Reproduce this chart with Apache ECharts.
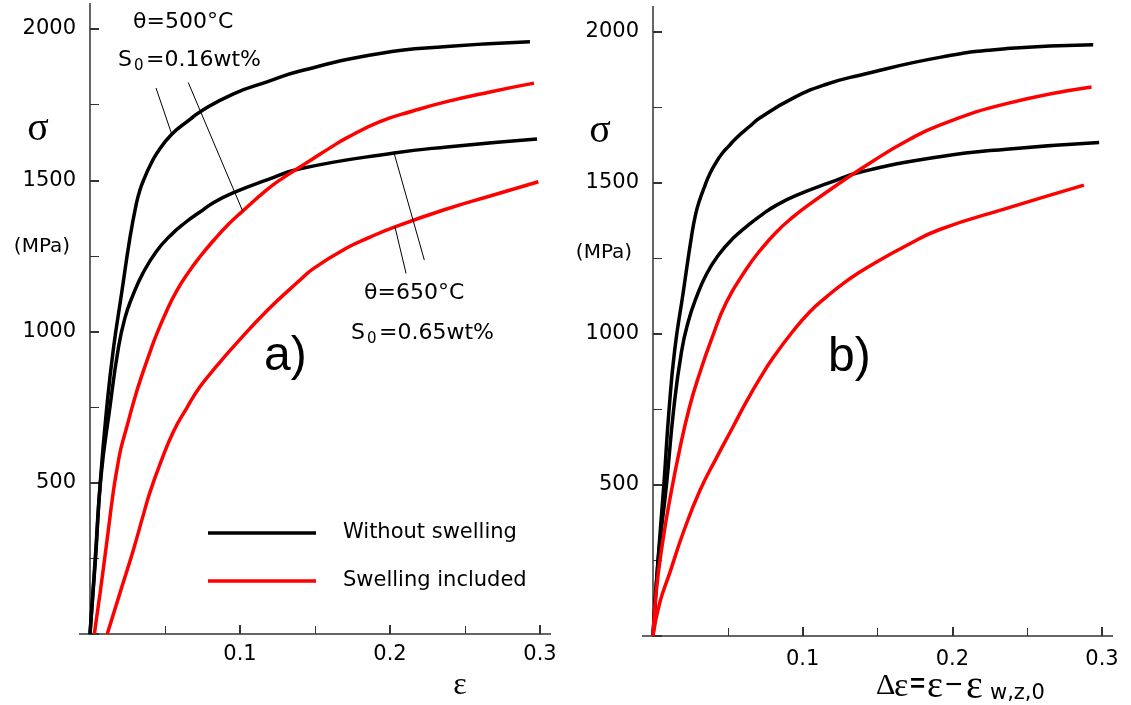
<!DOCTYPE html>
<html>
<head>
<meta charset="utf-8">
<script src="https://cdn.jsdelivr.net/npm/echarts@6/dist/echarts.min.js"></script>
<style>html,body{margin:0;padding:0;background:#fff}#c{width:1131px;height:705px}</style>
</head>
<body>
<div id="c"></div>
<script>
// ---- data (strain, stress MPa) ----
const xTicks = [0.1, 0.2, 0.3];
const yTicks = [500, 1000, 1500, 2000];
const seriesNames = ['Without swelling', 'Swelling included'];

// panel a)
const a_black500 = [[0,0],[0.0037,251],[0.0068,499],[0.0112,750],[0.0155,939],[0.0211,1127],[0.0267,1312],[0.0307,1418],[0.0333,1468],[0.0367,1512],[0.04,1548],[0.0447,1590],[0.0545,1652],[0.0667,1701],[0.0733,1726],[0.0953,1785],[0.118,1825],[0.14,1861],[0.1933,1919],[0.238,1942],[0.2933,1958]];
const a_black650 = [[0,0],[0.0035,250],[0.0073,519],[0.0133,750],[0.0187,939],[0.0233,1045],[0.0287,1121],[0.0353,1193],[0.044,1263],[0.0533,1316],[0.064,1362],[0.0733,1395],[0.082,1425],[0.0953,1458],[0.118,1501],[0.14,1538],[0.2027,1590],[0.238,1610],[0.298,1636]];
const a_red500 = [[0.0029,0],[0.0067,135],[0.0111,300],[0.0155,469],[0.018,545],[0.0207,615],[0.0245,684],[0.0289,764],[0.0333,836],[0.04,932],[0.0445,992],[0.0511,1068],[0.0578,1134],[0.0653,1193],[0.0733,1247],[0.0822,1300],[0.092,1353],[0.1018,1398],[0.1178,1468],[0.1287,1508],[0.14,1544],[0.1489,1572],[0.16,1607],[0.1711,1640],[0.1933,1694],[0.2153,1729],[0.2378,1760],[0.2667,1792],[0.296,1821]];
const a_red650 = [[0.0115,0],[0.02,136],[0.0289,278],[0.0355,393],[0.04,469],[0.0467,562],[0.0555,668],[0.0645,747],[0.0733,817],[0.0845,886],[0.0955,949],[0.1178,1068],[0.14,1170],[0.1489,1208],[0.1711,1276],[0.1867,1312],[0.2033,1346],[0.2378,1405],[0.2667,1448],[0.2989,1495]];

// panel b)
const b_black500 = [[0,0],[0.0033,247],[0.0072,498],[0.0107,747],[0.0145,947],[0.0201,1135],[0.0257,1322],[0.0285,1397],[0.0312,1444],[0.0346,1490],[0.0379,1530],[0.0419,1566],[0.0459,1596],[0.0506,1622],[0.0557,1649],[0.0647,1688],[0.0713,1715],[0.0936,1781],[0.1159,1827],[0.1382,1857],[0.1916,1916],[0.2362,1945],[0.2941,1958]];
const b_black650 = [[0,0],[0.0034,250],[0.009,500],[0.0138,750],[0.019,940],[0.0235,1040],[0.0287,1118],[0.0357,1198],[0.044,1263],[0.0533,1316],[0.064,1362],[0.0733,1397],[0.082,1425],[0.0953,1458],[0.118,1501],[0.14,1538],[0.1916,1587],[0.2362,1612],[0.2981,1634]];
const b_red500 = [[0,0],[0.0023,154],[0.0067,319],[0.0112,451],[0.0178,617],[0.0245,760],[0.0312,870],[0.039,981],[0.0491,1106],[0.0624,1215],[0.0713,1275],[0.0825,1338],[0.0934,1387],[0.1047,1430],[0.1248,1500],[0.1471,1573],[0.1694,1639],[0.1916,1692],[0.2362,1763],[0.293,1818]];
const b_red650 = [[0,0],[0.0045,110],[0.0112,209],[0.0201,341],[0.0312,480],[0.0424,590],[0.0535,693],[0.0624,776],[0.0713,852],[0.0802,921],[0.0936,1010],[0.1047,1073],[0.1159,1123],[0.127,1167],[0.1382,1205],[0.1471,1232],[0.1694,1293],[0.1916,1346],[0.2362,1416],[0.2879,1493]];

// leader lines of the annotations in panel a) (data coordinates)
const leaders500 = [[[0.044,1805],[0.0545,1652]], [[0.0655,1823],[0.1018,1398]]];
const leaders650 = [[[0.2027,1590],[0.2229,1236]], [[0.2033,1346],[0.2107,1192]]];

const xMax = 0.3, yMax = 2000;
const FONT = 'DejaVu Sans';
const BLACK = '#000000', RED = '#ff0000';
const AX = '#333333';

function xAxisCfg(gi, margin) {
  return {
    type: 'value', gridIndex: gi, min: 0, max: xMax, interval: 0.1,
    axisLine: { show: true, lineStyle: { color: AX, width: 1.5 } },
    axisTick: { show: true, inside: true, length: 9, lineStyle: { color: AX, width: 2 } },
    minorTick: { show: true, splitNumber: 2, length: 8, lineStyle: { color: AX, width: 1 } },
    splitLine: { show: false },
    axisLabel: {
      margin: margin, color: '#000', fontFamily: FONT, fontSize: 21,
      formatter: v => (v === 0 ? '' : (xTicks.find(t => Math.abs(t - v) < 1e-9) || v).toString())
    }
  };
}
function yAxisCfg(gi) {
  return {
    type: 'value', gridIndex: gi, min: 0, max: yMax, interval: 500,
    axisLine: { show: true, lineStyle: { color: AX, width: 1.5 } },
    axisTick: { show: true, inside: true, length: 9, lineStyle: { color: AX, width: 2 } },
    minorTick: { show: true, splitNumber: 2, length: 9, lineStyle: { color: AX, width: 1 } },
    splitLine: { show: false },
    axisLabel: {
      margin: 14, color: '#000', fontFamily: FONT, fontSize: 21, padding: [5, 0, 0, 0],
      formatter: v => (yTicks.indexOf(v) >= 0 ? String(v) : '')
    }
  };
}
function leaderMark(list) {
  return {
    silent: true, symbol: ['none', 'none'], label: { show: false },
    lineStyle: { color: '#000', width: 1, type: 'solid' },
    emphasis: { disabled: true },
    data: list.map(([p, q]) => [{ coord: p }, { coord: q }])
  };
}
function line(name, color, gi, data, mark) {
  const s = {
    type: 'line', name: name, xAxisIndex: gi, yAxisIndex: gi, data: data,
    showSymbol: false, symbol: 'none', smooth: 0.5,
    color: color, itemStyle: { color: color },
    lineStyle: { color: color, width: 3.5 }, emphasis: { disabled: true }, z: 3
  };
  if (mark) s.markLine = mark;
  return s;
}

const chart = echarts.init(document.getElementById('c'), null, { renderer: 'canvas' });
const option = {
  animation: false,
  backgroundColor: '#fff',
  grid: [
    { left: 90, top: 29, width: 450, height: 605 },
    { left: 653, top: 32, width: 449, height: 604 }
  ],
  xAxis: [xAxisCfg(0, 10), xAxisCfg(1, 13)],
  yAxis: [yAxisCfg(0), yAxisCfg(1)],
  legend: {
    orient: 'vertical', left: 203, top: 516, itemWidth: 108, itemHeight: 3.5, itemGap: 24,
    icon: 'rect', selectedMode: false,
    textStyle: { fontFamily: FONT, fontSize: 21, color: '#000', lineHeight: 24, padding: [0, 0, 0, 22] },
    data: seriesNames
  },
  series: [
    line(seriesNames[0], BLACK, 0, a_black500, leaderMark(leaders500)),
    line(seriesNames[0], BLACK, 0, a_black650, leaderMark(leaders650)),
    line(seriesNames[1], RED, 0, a_red500),
    line(seriesNames[1], RED, 0, a_red650),
    line(seriesNames[0], BLACK, 1, b_black500),
    line(seriesNames[0], BLACK, 1, b_black650),
    line(seriesNames[1], RED, 1, b_red500),
    line(seriesNames[1], RED, 1, b_red650)
  ]
};
chart.setOption(option);

function txt(x, y, text, size, family, align, extra) {
  return {
    type: 'text', x: x, y: y, silent: true, z: 10,
    style: Object.assign({
      text: text, fill: '#000', fontSize: size, fontFamily: family,
      align: align || 'left', textAlign: align || 'left',
      verticalAlign: 'middle', textVerticalAlign: 'middle'
    }, extra || {})
  };
}

const g = [];
[0, 1].forEach(i => {
  const o = chart.convertToPixel({ gridIndex: i }, [0, 0]);
  const t = chart.convertToPixel({ gridIndex: i }, [0, yMax]);
  const r = chart.convertToPixel({ gridIndex: i }, [xMax, 0]);
  const st = { stroke: AX, lineWidth: 1.5 };
  g.push({ type: 'line', silent: true, shape: { x1: o[0], y1: t[1], x2: o[0], y2: t[1] - 26 }, style: st });
  g.push({ type: 'line', silent: true, shape: { x1: o[0] - 11, y1: o[1], x2: o[0], y2: o[1] }, style: st });
  g.push({ type: 'line', silent: true, shape: { x1: r[0], y1: r[1], x2: r[0] + 11, y2: r[1] }, style: st });
});

// axis titles
g.push(txt(38, 129, 'σ', 40, 'Liberation Serif', 'center'));
g.push(txt(42, 247, '(MPa)', 20, FONT, 'center'));
g.push(txt(600, 131, 'σ', 40, 'Liberation Serif', 'center'));
g.push(txt(604, 253, '(MPa)', 20, FONT, 'center'));
g.push(txt(460, 686, 'ε', 32, 'Liberation Serif', 'center'));
g.push(txt(876, 686, 'Δ', 30, 'Liberation Serif', 'left'));
g.push(txt(894, 687, 'ε', 34, 'Liberation Serif', 'left'));
g.push(txt(910, 685, '=', 26, 'Liberation Sans', 'left', { fontWeight: 'bold' }));
g.push(txt(927, 687, 'ε', 38, 'Liberation Serif', 'left'));
g.push(txt(945, 686, '−', 30, 'Liberation Sans', 'left'));
g.push(txt(966, 687, 'ε', 40, 'Liberation Serif', 'left'));
g.push(txt(990, 694, 'w,z,0', 21, FONT, 'left'));

// annotations
g.push(txt(133, 22, 'θ=500°C', 22, FONT, 'left'));
g.push(txt(118, 60, 'S', 22, FONT, 'left'));
g.push(txt(134, 66, '0', 15, FONT, 'left'));
g.push(txt(146, 60, '=0.16wt%', 22, FONT, 'left'));
g.push(txt(364, 293, 'θ=650°C', 22, FONT, 'left'));
g.push(txt(351, 333, 'S', 22, FONT, 'left'));
g.push(txt(367, 339, '0', 15, FONT, 'left'));
g.push(txt(379, 333, '=0.65wt%', 22, FONT, 'left'));

// panel labels
g.push(txt(264, 357, 'a)', 48, 'Liberation Sans', 'left'));
g.push(txt(828, 358, 'b)', 48, 'Liberation Sans', 'left'));

chart.setOption({ graphic: g });
</script>
</body>
</html>
